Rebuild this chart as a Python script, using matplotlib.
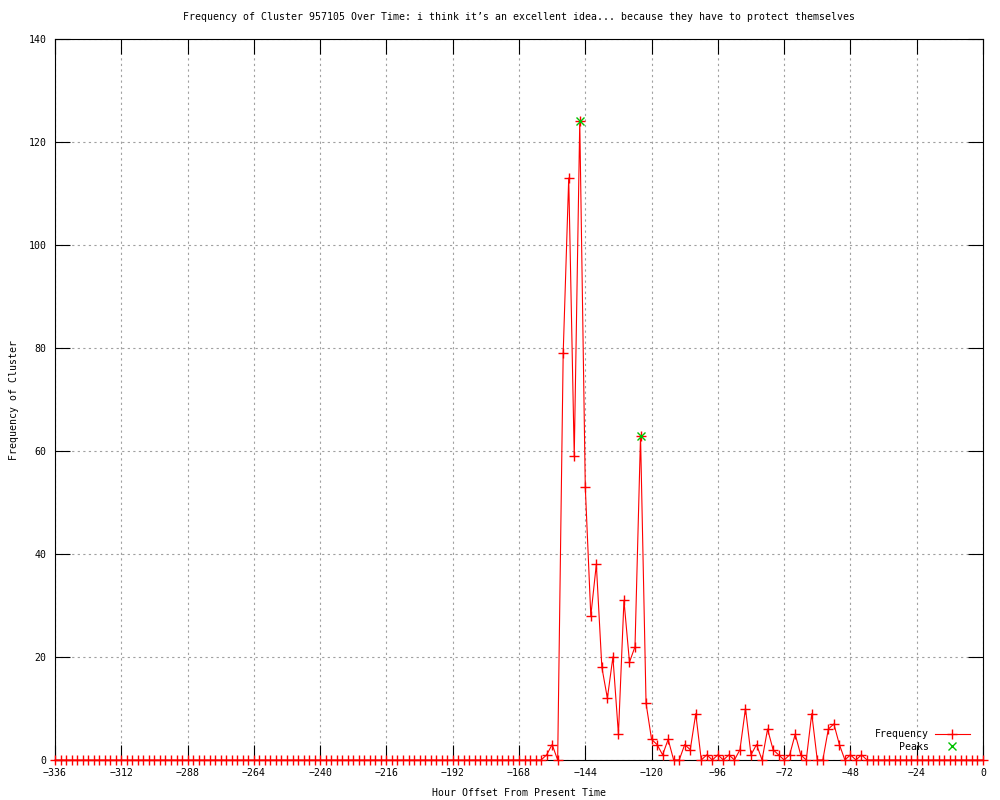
import matplotlib
matplotlib.use('Agg')
import matplotlib.pyplot as plt
import numpy as np

# hour offsets, one sample every 2 hours
hours = list(range(-336, 1, 2))

# counts (-336 .. 0)
freq_early = [0] * 88                     # -336 .. -162
freq_burst = [0, 1, 3, 0, 79, 113, 59, 124, 53, 28,      # -160 .. -142
              38, 18, 12, 20, 5, 31, 19, 22, 63, 11,     # -140 .. -122
              4, 3, 1, 4, 0, 0, 3, 2, 9, 0,              # -120 .. -102
              1, 0, 1, 0, 1, 0, 2, 10, 1, 3,             # -100 .. -82
              0, 6, 2, 1, 0, 1, 5, 1, 0, 9,              # -80 .. -62
              0, 0, 6, 7, 3, 0, 1, 0, 1]                 # -60 .. -44
freq_late = [0] * 22                      # -42 .. 0
frequency = freq_early + freq_burst + freq_late

peak_hours = [-146, -124]
peak_values = [124, 63]

FS = 7.1
plt.rcParams['font.family'] = ['DejaVu Sans Mono']
plt.rcParams['font.size'] = FS

fig = plt.figure(figsize=(10, 8), dpi=100)
ax = fig.add_axes([0.055, 0.05, 0.928, 0.9012])

ax.plot(hours, frequency, color='#ff0000', lw=0.8, marker='+', ms=7, mew=1,
        label='Frequency', clip_on=False, zorder=3)
ax.plot(peak_hours, peak_values, ls='none', color='#00c000', marker='x', ms=6,
        mew=1, label='Peaks', zorder=4)

ax.set_xlim(-336, 0)
ax.set_ylim(0, 140)
ax.set_xticks(range(-336, 1, 24))
ax.set_yticks(range(0, 141, 20))
ax.tick_params(direction='in', length=11, width=0.8, top=True, right=True,
               labelsize=FS, pad=6, color='black')
ax.grid(True, color='#a0a0a0', ls=(0, (2, 3)), lw=0.8)
ax.set_axisbelow(True)
for s in ax.spines.values():
    s.set_linewidth(0.8)

ax.set_title('Frequency of Cluster 957105 Over Time: i think it\u2019s an excellent idea... '
             'because they have to protect themselves', fontsize=FS, pad=14)
ax.set_xlabel('Hour Offset From Present Time', fontsize=FS, labelpad=7)
ax.set_ylabel('Frequency of Cluster', fontsize=FS)
ax.yaxis.set_label_coords(-0.039, 0.5)

ax.legend(loc='lower right', frameon=False, markerfirst=False, fontsize=FS,
          handlelength=3.6, handletextpad=0.6, labelspacing=0.25,
          borderaxespad=0.9, bbox_to_anchor=(1.0, -0.006))

fig.savefig('out.png', dpi=100)
